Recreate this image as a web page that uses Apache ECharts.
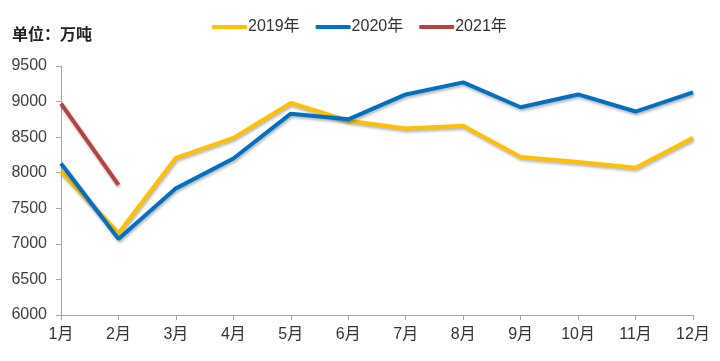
<!DOCTYPE html>
<html><head><meta charset="utf-8">
<script src="https://cdn.jsdelivr.net/npm/echarts@6/dist/echarts.min.js"></script>
<style>html,body{margin:0;padding:0;background:#fff}#c{width:720px;height:361px}</style>
</head><body><div id="c"></div>
<script>
const months = ['1月','2月','3月','4月','5月','6月','7月','8月','9月','10月','11月','12月'];
const s2019 = [8020, 7150, 8210, 8490, 8980, 8730, 8620, 8660, 8220, 8150, 8070, 8490];
const s2020 = [8130, 7070, 7780, 8200, 8830, 8750, 9100, 9270, 8920, 9100, 8860, 9130];
const s2021 = [8970, 7830];
const font = '"Liberation Sans", "Noto Sans CJK SC", sans-serif';
function mk(name, data, color){
  return {name, type:'line', data, symbol:'none', smooth:false,
    lineStyle:{width:4, color, shadowColor:'rgba(0,0,0,0.3)', shadowBlur:3, shadowOffsetX:1, shadowOffsetY:2},
    itemStyle:{color}};
}
const chart = echarts.init(document.getElementById('c'));
chart.setOption({
  animation:false,
  title:{text:'单位：万吨', left:12, top:26, padding:0, textStyle:{fontSize:16, fontWeight:'bold', color:'#222', fontFamily:'"Noto Sans CJK SC", sans-serif'}},
  legend:{top:14, left:207, itemWidth:35, itemHeight:4, itemGap:16,
    icon:'roundRect', textStyle:{fontSize:16, color:'#333', fontFamily:font, padding:[0,0,0,-4]},
    data:['2019年','2020年','2021年']},
  grid:{left:61, right:27, top:66, bottom:46},
  xAxis:{type:'category', data:months, boundaryGap:false,
    axisLine:{lineStyle:{color:'#A6A6A6'}}, axisTick:{show:true, alignWithLabel:true, lineStyle:{color:'#A6A6A6'}, length:5},
    axisLabel:{fontSize:16, color:'#333', margin:12, fontFamily:font}},
  yAxis:{type:'value', min:6000, max:9500, interval:500,
    axisLine:{show:true, lineStyle:{color:'#A6A6A6'}}, axisTick:{show:true, inside:false, length:5, lineStyle:{color:'#A6A6A6'}},
    splitLine:{show:false},
    axisLabel:{fontSize:16, color:'#404040', margin:14, fontFamily:font, formatter:v=>String(v)}},
  series:[mk('2019年', s2019, '#FFC000'), mk('2020年', s2020, '#0070C0'), mk('2021年', s2021, '#B5433F')]
});
</script></body></html>
